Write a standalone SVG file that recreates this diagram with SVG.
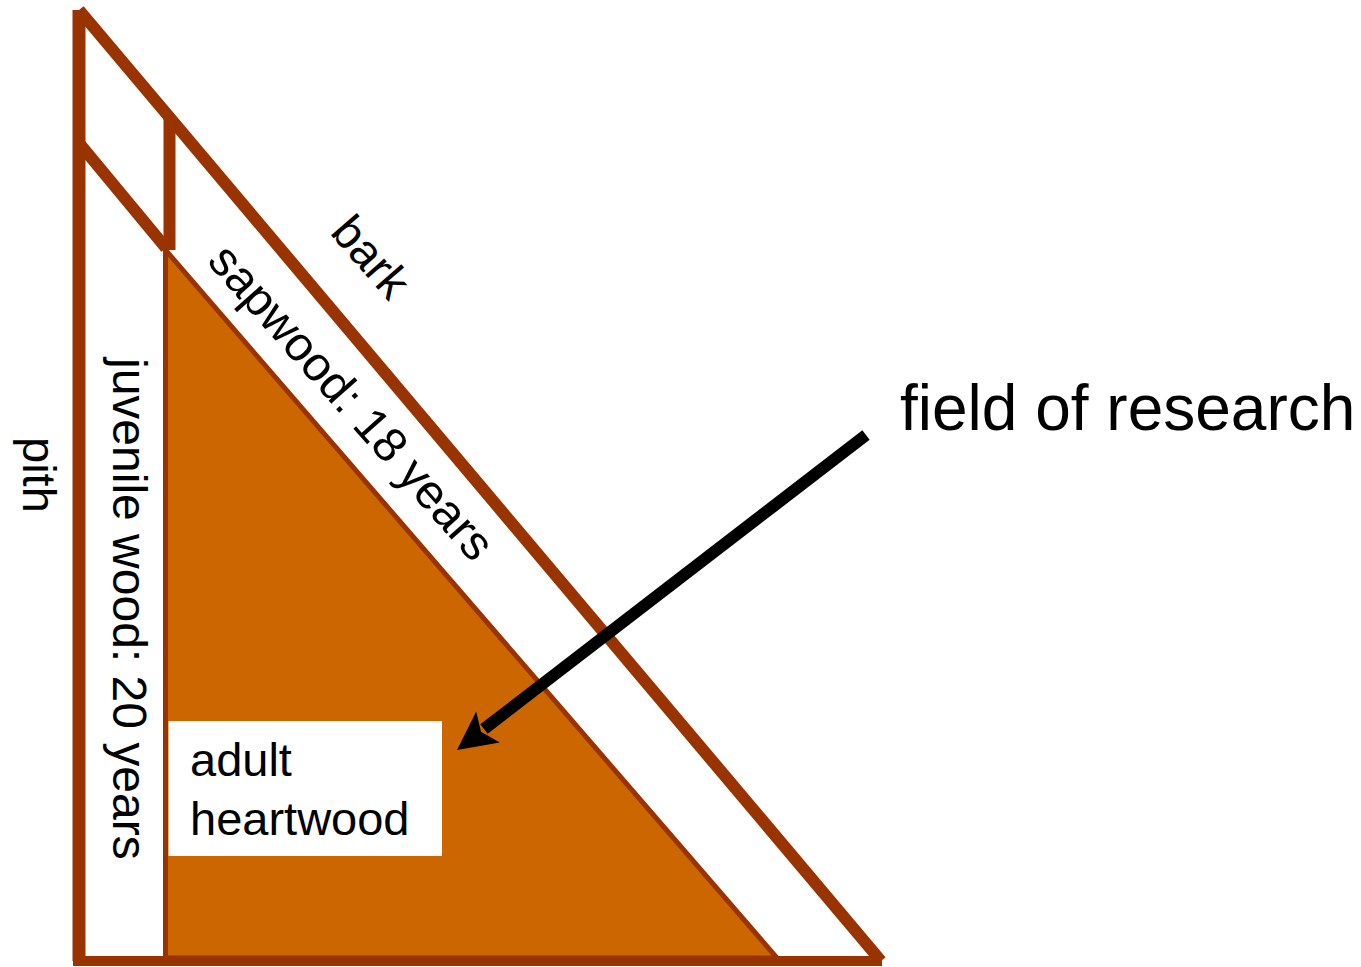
<svg xmlns="http://www.w3.org/2000/svg" width="1361" height="967" viewBox="0 0 1361 967">
<style>
.wood{stroke:#993300;fill:none;stroke-linecap:butt}
.lbl{font-family:"Liberation Sans",Arial,sans-serif;font-size:47px;fill:#000}
</style>
<rect width="1361" height="967" fill="#fff"/>
<g id="heartwood">
<polygon points="165.5,250 165.5,958 777,958" fill="#CC6600" stroke="#993300" stroke-width="5"/>
<rect x="168.5" y="721" width="273.5" height="135" fill="#fff"/>
<text class="lbl" x="190" y="776">adult</text>
<text class="lbl" x="190" y="835">heartwood</text>
</g>
<g id="wood-lines">
<line class="wood" x1="79" y1="10" x2="79" y2="961" stroke-width="13"/>
<line class="wood" x1="73" y1="961" x2="882" y2="961" stroke-width="10"/>
<line class="wood" x1="79" y1="10" x2="881" y2="961" stroke-width="12"/>
<line class="wood" x1="169.5" y1="118" x2="169.5" y2="250" stroke-width="12"/>
<line class="wood" x1="79" y1="143" x2="166" y2="248" stroke-width="12"/>
</g>
<g id="pith"><text class="lbl" transform="translate(23,437) rotate(90)">pith</text></g>
<g id="juvenile"><text class="lbl" style="font-size:48px" transform="translate(113,358) rotate(90)">juvenile wood: 20 years</text></g>
<g id="sapwood"><text class="lbl" style="font-size:48px" transform="translate(206,262) rotate(48.5)">sapwood: 18 years</text></g>
<g id="bark"><text class="lbl" transform="translate(329,233) rotate(49)">bark</text></g>
<g id="field"><text class="lbl" style="font-size:64px" x="900" y="430">field of research</text></g>
<g id="connectors">
<line x1="866" y1="435" x2="484" y2="729" stroke="#000" stroke-width="12"/>
<polygon points="457,750 476.2,711.6 481,731.7 499.8,742.4" fill="#000"/>
</g>
</svg>
